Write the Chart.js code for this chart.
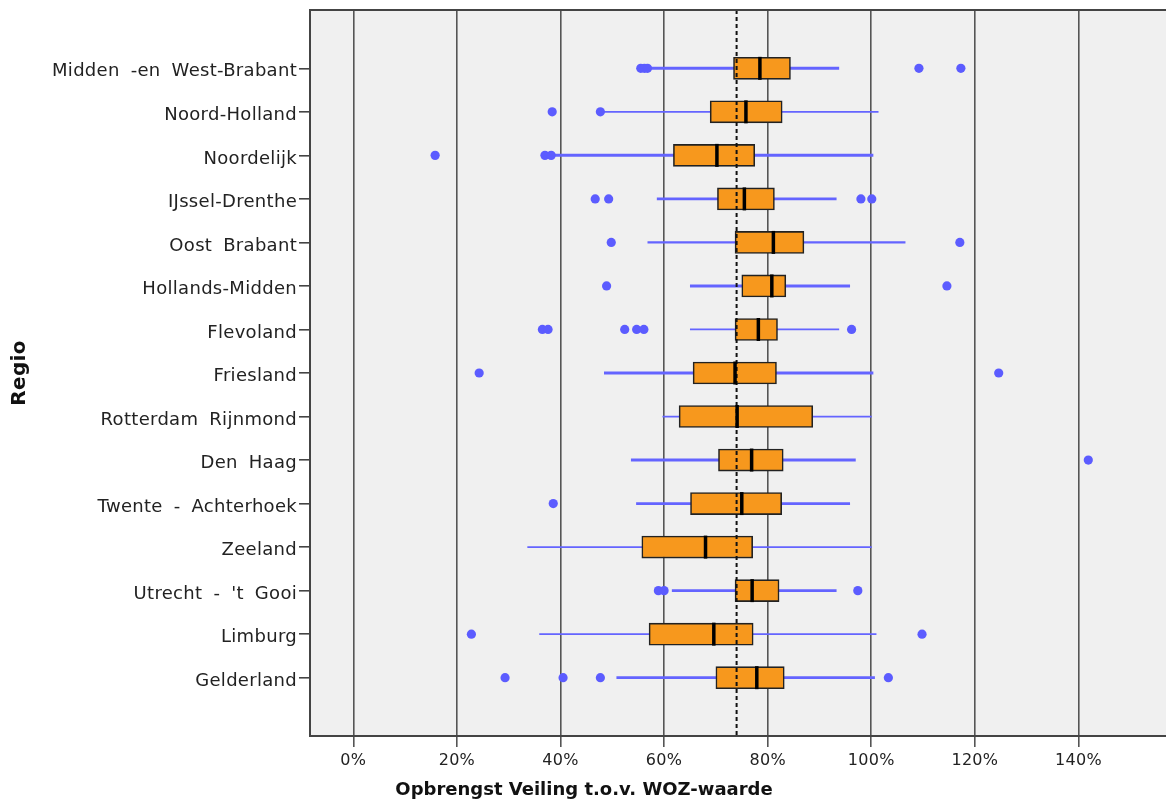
<!DOCTYPE html>
<html><head><meta charset="utf-8">
<script src="https://cdn.jsdelivr.net/npm/chart.js@4.4.0/dist/chart.umd.min.js"></script>
<style>html,body{margin:0;padding:0;background:#fff;overflow:hidden;}canvas{display:block;}</style>
</head><body><canvas id="c" width="1166" height="809"></canvas>
<script>
const regions = ["Midden -en West-Brabant","Noord-Holland","Noordelijk","IJssel-Drenthe","Oost Brabant","Hollands-Midden","Flevoland","Friesland","Rotterdam Rijnmond","Den Haag","Twente - Achterhoek","Zeeland","Utrecht - 't Gooi","Limburg","Gelderland"];
const whiskerLow  = [57.3, 48.3, 38.6, 58.6, 56.8, 65.0, 65.0, 48.4, 59.7, 53.6, 54.6, 33.6, 61.5, 35.9, 50.8];
const q1          = [73.4, 68.9, 61.8, 70.3, 73.7, 75.0, 73.7, 65.6, 62.9, 70.5, 65.1, 55.7, 73.7, 57.1, 70.0];
const medians     = [78.5, 75.8, 70.2, 75.5, 81.1, 80.8, 78.2, 73.7, 74.1, 76.9, 75.0, 68.0, 77.0, 69.6, 77.9];
const q3          = [84.4, 82.8, 77.5, 81.3, 87.0, 83.5, 81.9, 81.7, 88.7, 83.0, 82.7, 77.1, 82.2, 77.2, 83.2];
const whiskerHigh = [93.8, 101.4, 100.4, 93.3, 106.6, 95.9, 93.8, 100.4, 100.1, 97.0, 95.9, 100.1, 93.3, 101.0, 100.7];
const outliers = [
  [55.5, 56.2, 56.8, 109.2, 117.3],
  [38.4, 47.7],
  [15.8, 37.0, 38.2],
  [46.7, 49.3, 98.0, 100.1],
  [49.8, 117.1],
  [48.9, 114.6],
  [36.5, 37.6, 52.4, 54.7, 56.1, 96.2],
  [24.3, 124.6],
  [],
  [141.9],
  [38.6],
  [],
  [58.9, 60.0, 97.4],
  [22.8, 109.8],
  [29.3, 40.5, 47.7, 103.3]
];
const xTicks = [0, 20, 40, 60, 80, 100, 120, 140];
const refValue = 74;
const xTitle = 'Opbrengst Veiling t.o.v. WOZ-waarde';
const yTitle = 'Regio';

// styles (kept separate from data)
const whiskerWidths = [3, 1.8, 3, 2.6, 2.4, 3, 1.8, 3, 1.8, 3, 2.7, 1.8, 2.7, 1.8, 2.7];
const FONT = "'DejaVu Sans', sans-serif";
const BLUE = '#6464ff';
const Y_MIN = -1.34, Y_MAX = 15.34;

const datasets = [];
datasets.push({
  type: 'scatter', order: 0,
  data: outliers.flatMap((arr, i) => arr.map(v => ({x: v, y: i}))),
  pointRadius: 4.6, pointBackgroundColor: '#5c5cff', pointBorderWidth: 0
});
datasets.push({
  type: 'scatter', order: 1,
  data: medians.map((v, i) => ({x: v, y: i})),
  pointStyle: 'line', rotation: 90, pointRadius: 11.5,
  pointBorderColor: '#000', pointBorderWidth: 3.5
});
datasets.push({
  type: 'scatter', order: 2, showLine: true,
  data: [{x: refValue, y: Y_MIN}, {x: refValue, y: Y_MAX}],
  borderColor: '#111', borderWidth: 2, borderDash: [4, 3], pointRadius: 0
});
datasets.push({
  type: 'bar', order: 3, indexAxis: 'y', grouped: false,
  data: q1.map((v, i) => ({x: [v, q3[i]], y: i})),
  backgroundColor: '#f7981d', borderColor: '#222', borderWidth: 1.6,
  borderSkipped: false, barThickness: 22
});
regions.forEach((r, i) => {
  datasets.push({
    type: 'scatter', order: 4, showLine: true,
    data: [{x: whiskerLow[i], y: i}, {x: whiskerHigh[i], y: i}],
    borderColor: BLUE, borderWidth: whiskerWidths[i], pointRadius: 0
  });
});

const bgPlugin = {
  id: 'bg',
  beforeDraw(chart) {
    const {ctx, chartArea: a} = chart;
    ctx.save(); ctx.fillStyle = '#f0f0f0';
    ctx.fillRect(a.left, a.top, a.right - a.left, a.bottom - a.top);
    ctx.restore();
    ctx.wordSpacing = '5px';
    ctx.letterSpacing = '0.3px';
  },
  afterDraw(chart) {
    const {ctx, chartArea: a} = chart;
    ctx.wordSpacing = '0px';
    ctx.letterSpacing = '0px';
    ctx.save();
    ctx.strokeStyle = '#444'; ctx.lineWidth = 2;
    ctx.strokeRect(a.left, a.top, a.right - a.left + 2, a.bottom - a.top);
    ctx.fillStyle = '#111';
    ctx.font = "bold 18px " + FONT;
    ctx.textAlign = 'center'; ctx.textBaseline = 'middle';
    ctx.fillText(xTitle, 584, 790);
    ctx.restore();
  }
};

new Chart(document.getElementById('c'), {
  type: 'scatter',
  data: {datasets},
  options: {
    responsive: false, animation: false, devicePixelRatio: 1,
    layout: {autoPadding: false, padding: {top: 10, right: 0, left: 0, bottom: 0}},
    plugins: {legend: {display: false}, tooltip: {enabled: false}},
    scales: {
      x: {
        type: 'linear', position: 'bottom', min: -8.36, max: 156.9, offset: false,
        afterBuildTicks: s => { s.ticks = xTicks.map(v => ({value: v})); },
        afterFit: s => { s.height = 73; s.paddingLeft = 0; s.paddingRight = 0; },
        ticks: {callback: v => v + '%', color: '#222', font: {family: FONT, size: 16}, padding: 4, maxRotation: 0},
        grid: {color: '#555', lineWidth: 1.6, tickLength: 11, offset: false},
        border: {display: false}
      },
      y: {
        type: 'linear', reverse: true, min: Y_MIN, max: Y_MAX, offset: false,
        afterBuildTicks: s => { s.ticks = regions.map((_, i) => ({value: i})); },
        afterFit: s => { s.width = 310; s.paddingTop = 0; s.paddingBottom = 0; },
        ticks: {callback: v => regions[v], color: '#222', font: {family: FONT, size: 18}, padding: 2, autoSkip: false, labelOffset: 3.5},
        grid: {drawOnChartArea: false, color: '#444', lineWidth: 1.6, tickLength: 11, offset: false},
        border: {display: false},
        title: {display: true, text: yTitle, color: '#111', font: {family: FONT, size: 20, weight: 'bold'}, padding: {top: 8, bottom: 0}}
      }
    }
  },
  plugins: [bgPlugin]
});
</script></body></html>
